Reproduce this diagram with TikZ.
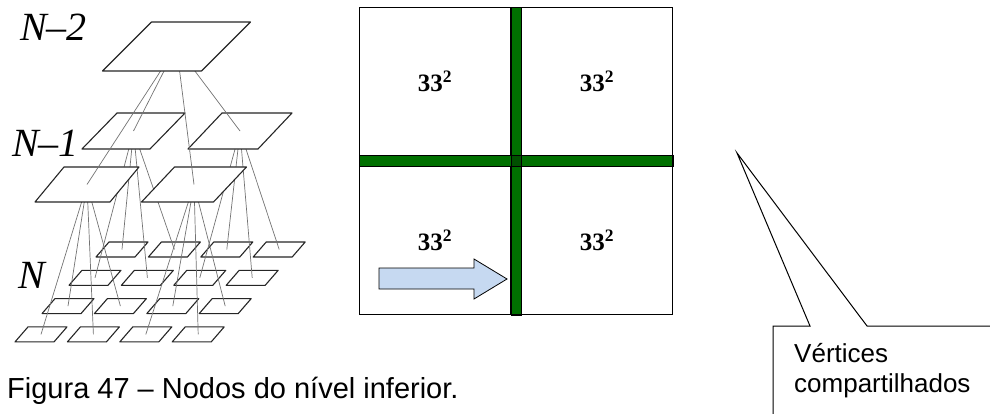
\documentclass[tikz,border=0pt]{standalone}
\usepackage{fontspec}
\setmainfont{Liberation Sans}
\newfontfamily\serifface{Liberation Serif}
\usepackage{tikz}
\definecolor{vgreen}{RGB}{0,112,0}
\definecolor{vgreendark}{RGB}{0,80,0}
\definecolor{arrowblue}{RGB}{198,217,241}
\tikzset{
  plane/.style={draw=black!85, fill=white, line width=1.1pt, line join=round},
  link/.style={draw=black!55, line width=0.7pt},
  lvl/.style={font=\serifface\itshape\fontsize{40}{40}\selectfont, inner sep=0pt, anchor=base west},
  cell/.style={draw, line width=0.8pt, minimum width=151pt, minimum height=148pt,
    inner sep=0pt, anchor=north west, font=\serifface\bfseries\fontsize{25}{25}\selectfont},
  bar/.style={draw=black, fill=vgreen, line width=0.6pt},
  txt/.style={inner sep=0pt, anchor=base west, font=\fontsize{26}{30}\selectfont},
  pics/plane/.style n args={3}{code={
    \draw[plane] (-#1-#2,#3) -- (#1-#2,#3) -- (#1+#2,-#3) -- (-#1+#2,-#3) -- cycle;}}
}
\begin{document}
\begin{tikzpicture}[x=1pt, y=-1pt]
  \useasboundingbox (0,0) rectangle (990,414);
  % level N
  \foreach \r in {0,...,3}
    \foreach \c in {0,...,3} {
      \coordinate (n\r\c) at ({122-27*\r+52.4*\c},{249.5+28.3*\r});
      \pic at (n\r\c) {plane={19.5}{6.5}{7.5}};
    }
  % level N-1
  \coordinate (bl) at (133.5,131);
  \coordinate (br) at (240,131);
  \coordinate (fl) at (87,184.5);
  \coordinate (fr) at (194,184.5);
  \coordinate (apex) at (176.5,46.5);
  \foreach \a/\b in {bl/n00, bl/n01, bl/n10, bl/n11, br/n02, br/n03, br/n12, br/n13}
    \draw[link] (\a) -- (\b);
  \pic at (bl) {plane={34}{17.5}{18}};
  \pic at (br) {plane={35}{17}{18}};
  \foreach \a/\b in {fl/n20, fl/n21, fl/n30, fl/n31, fr/n22, fr/n23, fr/n32, fr/n33}
    \draw[link] (\a) -- (\b);
  \pic at (fl) {plane={37.5}{14.5}{17.5}};
  \pic at (fr) {plane={36}{16.5}{17.5}};
  % level N-2
  \foreach \b in {bl, br, fl, fr}
    \draw[link] (apex) -- (\b);
  \pic at (apex) {plane={49.5}{24.5}{24.5}};
  \node[lvl] (l2) at (20,41) {N–2};
  \node[lvl] (l1) at (12,157) {N–1};
  \node[lvl] (l0) at (18,288) {N};
  % grid
  \node[cell] (c11) at (359,7) {33\textsuperscript{2}};
  \node[cell] (c12) at (521,7) {33\textsuperscript{2}};
  \node[cell] (c21) at (359,166) {33\textsuperscript{2}};
  \node[cell] (c22) at (521,166) {33\textsuperscript{2}};
  \draw[bar] (c11.north east) rectangle (c22.south west);
  \draw[bar] (c11.south west) rectangle (c22.north east);
  \draw[bar, fill=vgreendark] (c11.south east) rectangle (c22.north west);
  \draw[line width=0.8pt] (c11.north west) rectangle (c22.south east);
  \draw[fill=arrowblue, line width=0.8pt, line join=miter]
    (379,268) -- (474,268) -- (474,259) -- (507,279) -- (474,299) -- (474,289) -- (379,289) -- cycle;
  % callout
  \coordinate (tip) at (737,153);
  \draw[line width=1pt] (773,414) -- (773,326) -- (810,326) -- (tip) -- (867,326) -- (990,326);
  \node[txt] (vt) at (794,362) {Vértices};
  \node[txt] (cp) at (794,392) {compartilhados};
  % caption
  \node[txt, font=\fontsize{29}{29}\selectfont] (cap) at (7,398) {Figura 47 – Nodos do nível inferior.};
\end{tikzpicture}
\end{document}
